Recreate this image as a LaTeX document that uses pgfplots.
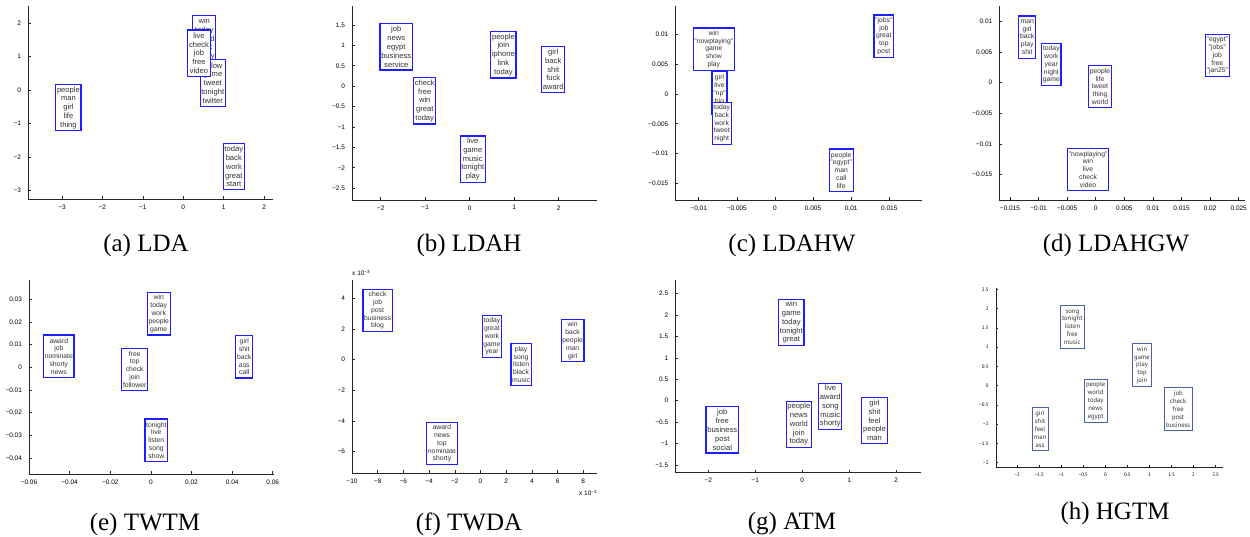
\documentclass[border=0pt]{standalone}
\usepackage{fontspec}
\setmainfont{Liberation Serif}
\newfontfamily\boxfont{Liberation Sans}[Ligatures=TeXOff]
\newfontfamily\hfont{PT Sans}[Ligatures=TeXOff]
\usepackage{pgfplots}
\pgfplotsset{compat=1.18}
\definecolor{bblue}{RGB}{30,30,255}
\definecolor{hblue}{RGB}{75,95,175}
\tikzset{boxbase/.style={anchor=center, fill=white, align=center, inner xsep=1.2pt, inner ysep=1pt, text=black!80}}
\pgfplotsset{
  mat/.style={scale only axis, anchor=south west, clip=false,
    scaled ticks=false,
    axis lines*=left, tick pos=left,
    axis line style={line width=0.8pt, black!85},
    tick align=inside, major tick length=2.8pt,
    tick style={line width=0.6pt, black!85},
    tick label style={font=\boxfont\fontsize{6.5}{7}\selectfont},
    xticklabel style={yshift=-2pt},
    yticklabel style={xshift=-3.5pt}},
  bigbox/.style={every node near coord/.style={boxbase, draw=bblue, line width=1.2pt, font=\boxfont\fontsize{7.6}{8.8}\selectfont, minimum height=46.4pt}},
  smallbox/.style={every node near coord/.style={boxbase, draw=bblue, line width=1.2pt, font=\boxfont\fontsize{6.8}{7.8}\selectfont, minimum height=42.3pt}},
  hbox/.style={every node near coord/.style={boxbase, draw=hblue, line width=0.9pt, inner xsep=2pt, font=\hfont\fontsize{6.6}{7.9}\selectfont, minimum height=43pt}},
  lab/.style={draw=none, mark=none, nodes near coords, point meta=explicit symbolic},
}
\begin{document}
\begin{tikzpicture}
\useasboundingbox (0,0) rectangle (1250pt,537pt);
% (a) LDA
\begin{axis}[mat, bigbox, at={(28pt,337.7pt)}, width=245pt, height=193.3pt,
  xmin=-3.84, xmax=2.22, ymin=-3.27, ymax=2.51,
  xtick={-3,-2,-1,0,1,2}, xticklabels={−3,−2,−1,0,1,2},
  ytick={-3,-2,-1,0,1,2}, yticklabels={−3,−2,−1,0,1,2}]
\addplot[lab] table[x=x, y=y, meta=label] {
x y label
0.52 1.52 {win\\today\\award\\back\\shorty}
0.73 0.21 {follow\\game\\tweet\\tonight\\twitter}
0.39 1.10 {live\\check\\job\\free\\video}
-2.84 -0.53 {people\\man\\girl\\life\\thing}
1.25 -2.29 {today\\back\\work\\great\\start}
};
\end{axis}
% (b) LDAH
\begin{axis}[mat, bigbox, at={(352pt,337pt)}, width=245.3pt, height=194pt,
  xmin=-2.645, xmax=2.87, ymin=-2.79, ymax=1.966,
  xtick={-2,-1,0,1,2}, xticklabels={−2,−1,0,1,2},
  ytick={-2.5,-2,-1.5,-1,-0.5,0,0.5,1,1.5}, yticklabels={−2.5,−2,−1.5,−1,−0.5,0,0.5,1,1.5}]
\addplot[lab] table[x=x, y=y, meta=label] {
x y label
-1.65 0.965 {job\\news\\egypt\\business\\service}
-1.01 -0.36 {check\\free\\win\\great\\today}
0.76 0.77 {people\\join\\iphone\\link\\today}
1.88 0.41 {girl\\back\\shit\\fuck\\award}
0.07 -1.79 {live\\game\\music\\tonight\\play}
};
\end{axis}
% (c) LDAHW
\begin{axis}[mat, smallbox, at={(675.3pt,337pt)}, width=246.4pt, height=194pt,
  xmin=-0.01307, xmax=0.01925, ymin=-0.01773, ymax=0.01468,
  xtick={-0.01,-0.005,0,0.005,0.01,0.015}, xticklabels={−0.01,−0.005,0,0.005,0.01,0.015},
  ytick={-0.015,-0.01,-0.005,0,0.005,0.01}, yticklabels={−0.015,−0.01,−0.005,0,0.005,0.01}]
\addplot[lab] table[x=x, y=y, meta=label] {
x y label
-0.00802 0.00746 {win\\"nowplaying"\\game\\show\\play}
-0.00727 0.00015 {girl\\live\\"np"\\big\\love}
-0.00698 -0.00491 {today\\back\\work\\tweet\\night}
0.01428 0.00964 {"jobs"\\job\\great\\top\\post}
0.00869 -0.01275 {people\\"egypt"\\man\\call\\life}
};
\end{axis}
% (d) LDAHGW
\begin{axis}[mat, smallbox, at={(999.3pt,337pt)}, width=245.7pt, height=194pt,
  xmin=-0.01687, xmax=0.0261, ymin=-0.01912, ymax=0.0125,
  xtick={-0.015,-0.01,-0.005,0,0.005,0.01,0.015,0.02,0.025}, xticklabels={−0.015,−0.01,−0.005,0,0.005,0.01,0.015,0.02,0.025},
  ytick={-0.015,-0.01,-0.005,0,0.005,0.01}, yticklabels={−0.015,−0.01,−0.005,0,0.005,0.01}]
\addplot[lab] table[x=x, y=y, meta=label] {
x y label
-0.01199 0.00742 {man\\girl\\back\\play\\shit}
-0.00777 0.00297 {today\\work\\year\\night\\game}
0.00074 -0.00062 {people\\life\\tweet\\thing\\world}
-0.00135 -0.01411 {"nowplaying"\\win\\live\\check\\video}
0.02126 0.0044 {"egypt"\\"jobs"\\job\\free\\"jan25"}
};
\end{axis}
% (e) TWTM
\begin{axis}[mat, smallbox, at={(29pt,63pt)}, width=245pt, height=194pt,
  xmin=-0.06, xmax=0.0606, ymin=-0.04706, ymax=0.0385,
  xtick={-0.06,-0.04,-0.02,0,0.02,0.04,0.06}, xticklabels={−0.06,−0.04,−0.02,0,0.02,0.04,0.06},
  ytick={-0.04,-0.03,-0.02,-0.01,0,0.01,0.02,0.03}, yticklabels={−0.04,−0.03,−0.02,−0.01,0,0.01,0.02,0.03}]
\addplot[lab] table[x=x, y=y, meta=label] {
x y label
-0.04533 0.00489 {award\\job\\nominate\\shorty\\news}
0.00386 0.02359 {win\\today\\work\\people\\game}
-0.00796 -0.00089 {free\\top\\check\\join\\follower}
0.04596 0.00462 {girl\\shit\\back\\ass\\call}
0.00268 -0.03217 {tonight\\live\\listen\\song\\show}
};
\end{axis}
% (f) TWDA
\begin{axis}[mat, smallbox, at={(352pt,63.7pt)}, width=245.3pt, height=193.3pt,
  xmin=-10, xmax=9.09, ymin=-7.41, ymax=5.19,
  xtick={-10,-8,-6,-4,-2,0,2,4,6,8}, xticklabels={−10,−8,−6,−4,−2,0,2,4,6,8},
  ytick={-6,-4,-2,0,2,4}, yticklabels={−6,−4,−2,0,2,4}]
\addplot[lab] table[x=x, y=y, meta=label] {
x y label
-8.01 3.20 {check\\job\\post\\business\\blog}
0.89 1.51 {today\\great\\work\\game\\year}
3.16 -0.32 {play\\song\\listen\\black\\music}
7.17 1.23 {win\\back\\people\\man\\girl}
-3.0 -5.47 {award\\news\\top\\nominate\\shorty}
};
\node[anchor=base west, inner sep=0, font=\boxfont\fontsize{6.5}{7}\selectfont] at (rel axis cs:0,1) [yshift=4pt] {x 10\textsuperscript{−3}};
\node[anchor=base east, inner sep=0, font=\boxfont\fontsize{6.5}{7}\selectfont] at (rel axis cs:1,0) [yshift=-22.7pt] {x 10\textsuperscript{−3}};
\end{axis}
% (g) ATM
\begin{axis}[mat, bigbox, at={(675.3pt,64.3pt)}, width=245.7pt, height=192.7pt,
  xmin=-2.70, xmax=2.53, ymin=-1.68, ymax=2.82,
  xtick={-2,-1,0,1,2}, xticklabels={−2,−1,0,1,2},
  ytick={-1.5,-1,-0.5,0,0.5,1,1.5,2,2.5}, yticklabels={−1.5,−1,−0.5,0,0.5,1,1.5,2,2.5}]
\addplot[lab] table[x=x, y=y, meta=label] {
x y label
-0.23 1.83 {win\\game\\today\\tonight\\great}
-1.70 -0.68 {job\\free\\business\\post\\social}
-0.07 -0.55 {people\\news\\world\\join\\today}
0.60 -0.13 {live\\award\\song\\music\\shorty}
1.54 -0.46 {girl\\shit\\feel\\people\\man}
};
\end{axis}
% (h) HGTM
\begin{axis}[mat, hbox, at={(996pt,69.7pt)}, width=226.7pt, height=179pt,
  xmin=-2.48, xmax=2.66, ymin=-2.12, ymax=2.53,
  tick label style={font=\hfont\fontsize{5}{6}\selectfont},
  yticklabel style={xshift=-0.5pt}, major tick length=2pt,
  xtick={-2,-1.5,-1,-0.5,0,0.5,1,1.5,2,2.5}, xticklabels={−2,−1.5,−1,−0.5,0,0.5,1,1.5,2,2.5},
  ytick={-2,-1.5,-1,-0.5,0,0.5,1,1.5,2,2.5}, yticklabels={−2,−1.5,−1,−0.5,0,0.5,1,1.5,2,2.5}]
\addplot[lab] table[x=x, y=y, meta=label] {
x y label
-0.75 1.52 {song\\tonight\\listen\\free\\music}
0.83 0.53 {win\\game\\play\\top\\join}
-0.22 -0.39 {people\\world\\today\\news\\egypt}
1.65 -0.61 {job\\check\\free\\post\\business}
-1.48 -1.13 {girl\\shit\\feel\\man\\ass}
};
\end{axis}
% captions
\begin{scope}[every node/.style={inner sep=0, font=\fontsize{25}{30}\selectfont}]
\node at (146pt,291.2pt) {(a) LDA};
\node at (469pt,291.2pt) {(b) LDAH};
\node at (792pt,291.2pt) {(c) LDAHW};
\node at (1116pt,291.2pt) {(d) LDAHGW};
\node at (145pt,13pt) {(e) TWTM};
\node at (469pt,13pt) {(f) TWDA};
\node at (792pt,13pt) {(g) ATM};
\node at (1115pt,24pt) {(h) HGTM};
\end{scope}
\end{tikzpicture}
\end{document}
